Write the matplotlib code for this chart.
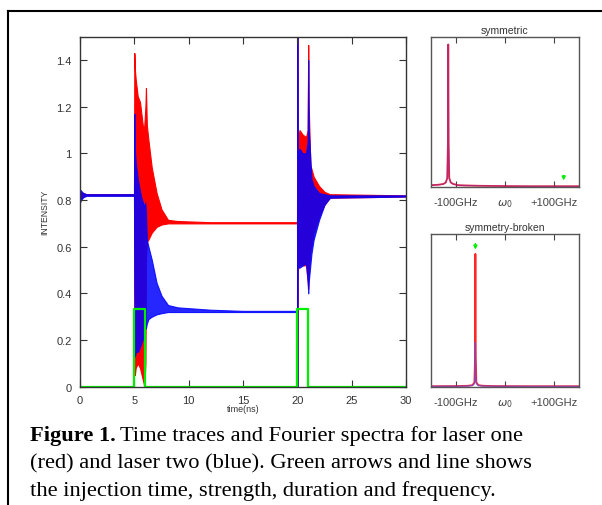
import numpy as np
import matplotlib
matplotlib.use('Agg')
import matplotlib.pyplot as plt
from matplotlib.lines import Line2D

plt.rcParams['font.family'] = ['Liberation Sans', 'DejaVu Sans']

# %% time traces (envelopes of the fast oscillation)
t_red = [0, 0.3, 0.6, 4.97, 5.0, 5.05, 5.12, 5.31, 5.52, 5.83, 5.92, 6.02, 6.07, 6.15, 6.29,
         6.6, 7.05, 7.5, 8.1, 9.0, 12, 19.97, 20.0, 20.03, 20.2, 20.5, 20.8, 20.95, 21.0,
         21.05, 21.2, 21.5, 22.0, 22.5, 23.0, 30]
red_hi = [0.835, 0.83, 0.825, 0.825, 1.43, 1.36, 1.32, 1.245, 1.22, 1.10, 1.12, 1.2, 1.28, 1.12, 1.06,
          0.94, 0.83, 0.76, 0.715, 0.71, 0.705, 0.705, 1.5, 1.05, 1.10, 1.08, 1.07, 1.1, 1.465,
          1.2, 0.95, 0.90, 0.86, 0.835, 0.825, 0.82]
red_lo = [0.805, 0.815, 0.82, 0.82, 0.3, 0.05, 0.08, 0.10, 0.08, 0.02, 0.0, 0.1, 0.55, 0.62, 0.63,
          0.66, 0.685, 0.695, 0.70, 0.70, 0.70, 0.70, 0.0, 0.50, 0.52, 0.52, 0.52, 0.45, 0.42,
          0.5, 0.58, 0.66, 0.73, 0.78, 0.81, 0.815]

t_blue = [0, 0.1, 0.3, 0.6, 4.97, 5.0, 5.05, 5.15, 5.35, 5.6, 5.9, 6.0, 6.07, 6.15, 6.3, 6.6,
          7.05, 7.5, 8.1, 9.0, 12, 15, 19.97, 20.0, 20.03, 20.2, 20.5, 20.8, 20.95, 21.0,
          21.05, 21.3, 21.5, 22.0, 22.5, 23.0, 30]
blue_hi = [0.845, 0.84, 0.83, 0.825, 0.825, 1.17, 1.01, 0.95, 0.88, 0.82, 0.77, 0.79, 0.75, 0.63, 0.6, 0.545,
           0.445, 0.39, 0.35, 0.34, 0.33, 0.325, 0.325, 1.5, 0.98, 1.02, 1.0, 1.0, 1.05, 1.40,
           1.1, 0.89, 0.86, 0.83, 0.825, 0.82, 0.82]
blue_lo = [0.79, 0.80, 0.812, 0.818, 0.818, 0.4, 0.13, 0.15, 0.15, 0.18, 0.22, 0.25, 0.25, 0.27, 0.29, 0.30,
           0.31, 0.315, 0.32, 0.32, 0.32, 0.32, 0.32, 0.0, 0.52, 0.51, 0.52, 0.53, 0.45, 0.40,
           0.45, 0.57, 0.63, 0.715, 0.78, 0.81, 0.815]

# injection pulse
t_inj = [0, 5, 5, 6, 6, 20, 20, 21, 21, 30]
inj = [0, 0, 0.335, 0.335, 0, 0, 0.335, 0.335, 0, 0]

# %% spectra
f_sym = [-150, -135, -125, -120, -117, -115.7, -115, -114.3, -113, -110, -105, -95, -80, -50, 0, 50, 100, 150]
s_sym = [0.012, 0.015, 0.02, 0.03, 0.06, 0.3, 0.95, 0.3, 0.06, 0.03, 0.02, 0.012, 0.01, 0.008, 0.006, 0.005, 0.005, 0.005]

f_brk = [-150, -100, -75, -66, -62, -60.7, -60, -59.3, -58, -54, -45, -20, 50, 150]
s_brk_red = [0.005, 0.006, 0.008, 0.012, 0.03, 0.2, 0.87, 0.2, 0.03, 0.012, 0.008, 0.006, 0.005, 0.005]
s_brk_blue = [0.004, 0.005, 0.006, 0.01, 0.02, 0.08, 0.29, 0.08, 0.02, 0.01, 0.006, 0.005, 0.004, 0.004]

arrow_sym = (119, 0.095, 0.025)      # x, start y, end y
arrow_brk = (-60, 0.955, 0.88)

spec_ticks = [-100, 0, 100]
spec_labels = ['-100GHz', r'$\omega_0$', '+100GHz']

caption = ['Time traces and Fourier spectra for laser one',
           '(red) and laser two (blue). Green arrows and line shows',
           'the injection time, strength, duration and frequency.']

#%%
fig = plt.figure(figsize=(6.02, 5.06), dpi=100)

ax = fig.add_axes([80/602, 1-387.7/506, 326/602, 350/506])
ax.fill_between(t_red, red_lo, red_hi, color='#ff0000', lw=0.8)
ax.fill_between(t_blue, blue_lo, blue_hi, color='#0000ff', lw=0.8, alpha=0.85)
ax.plot(t_inj, inj, color='#00ee00', lw=1.6)
ax.set_xlim(0, 30)
ax.set_ylim(0, 1.5)
ax.set_xticks([0, 5, 10, 15, 20, 25, 30])
ax.set_yticks([0, 0.2, 0.4, 0.6, 0.8, 1, 1.2, 1.4])
ax.set_yticklabels(['0', '0.2', '0.4', '0.6', '0.8', '1', '1.2', '1.4'])
ax.tick_params(direction='in', top=True, right=True, length=5, width=0.8,
               labelsize=8, pad=6, colors='#333333')
for s in ax.spines.values():
    s.set_color('#333333')
    s.set_linewidth(1.0)
ax.set_xlabel('time(ns)', fontsize=6.5, labelpad=-1, color='#333333')
ax.set_ylabel('INTENSITY', fontsize=6.2, labelpad=5, color='#333333')

def spec_axes(rect, title):
    a = fig.add_axes(rect)
    a.set_xlim(-150, 150)
    a.set_ylim(0, 1)
    a.set_xticks(spec_ticks)
    a.set_xticklabels(spec_labels)
    a.set_yticks([])
    a.tick_params(direction='in', top=True, length=4, width=0.8, labelsize=8, pad=7, colors='#444444')
    for s in a.spines.values():
        s.set_color('#555555')
        s.set_linewidth(1.0)
    a.set_title(title, fontsize=7.5, pad=3, color='#333333')
    return a

ax1 = spec_axes([431/602, 1-188/506, 148/602, 150/506], 'symmetric')
ax1.plot(f_sym, s_sym, color='#ff0000', lw=1.3, alpha=0.85)
ax1.plot(f_sym, s_sym, color='#3030ff', lw=1.0, alpha=0.35)
ax1.annotate('', xy=(arrow_sym[0], arrow_sym[2]), xytext=(arrow_sym[0], arrow_sym[1]),
             arrowprops=dict(arrowstyle='-|>', color='#00ee00', lw=1.1, mutation_scale=5))

ax2 = spec_axes([431/602, 1-388/506, 148/602, 153/506], 'symmetry-broken')
ax2.plot(f_brk, s_brk_red, color='#ff0000', lw=1.3, alpha=0.85)
ax2.plot(f_brk, s_brk_blue, color='#5050ff', lw=1.0, alpha=0.6)
ax2.annotate('', xy=(arrow_brk[0], arrow_brk[2]), xytext=(arrow_brk[0], arrow_brk[1]),
             arrowprops=dict(arrowstyle='-|>', color='#00ee00', lw=1.1, mutation_scale=5))

# frame of the figure box
fig.add_artist(Line2D([8/602, 8/602], [0, 1-12/506], transform=fig.transFigure, color='k', lw=1.5))
fig.add_artist(Line2D([8/602, 1], [1-12/506, 1-12/506], transform=fig.transFigure, color='k', lw=1.5))

# caption
serif = ['Liberation Serif', 'DejaVu Serif']
fs = 16.2
t1 = fig.text(30/602, 1-441/506, 'Figure 1.', fontsize=fs, fontweight='bold', family=serif)
fig.canvas.draw()
bb = t1.get_window_extent()
fig.text(bb.x1/602 + 4/602, 1-441/506, caption[0], fontsize=fs, family=serif)
fig.text(30/602, 1-468.5/506, caption[1], fontsize=fs, family=serif)
fig.text(30/602, 1-496/506, caption[2], fontsize=fs, family=serif)

fig.savefig('out.png', dpi=100)
